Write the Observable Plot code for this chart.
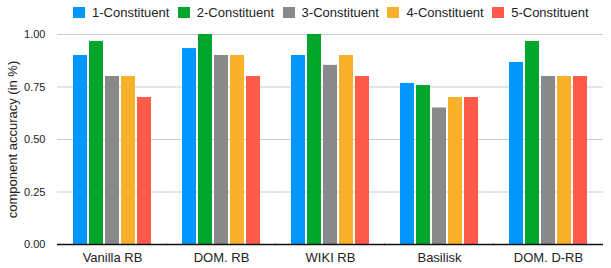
<!DOCTYPE html>
<html>
<head>
<meta charset="utf-8">
<script src="https://cdn.jsdelivr.net/npm/d3@7"></script>
<script src="https://cdn.jsdelivr.net/npm/@observablehq/plot@0.6"></script>
<style>
  html, body { margin: 0; padding: 0; background: #fff; }
  body { width: 611px; height: 268px; overflow: hidden; font-family: "Liberation Sans", Arial, sans-serif; }
  #legend { position: relative; height: 25px; }
  .item { position: absolute; top: 0; height: 25px; display: flex; align-items: center; font-size: 13px; color: #222; }
  .sw { width: 12px; height: 11px; margin-right: 7px; }
</style>
</head>
<body>
<div id="legend"></div>
<div id="chart"></div>
<script>
const groups = ["Vanilla RB", "DOM. RB", "WIKI RB", "Basilisk", "DOM. D-RB"];
const series = ["1-Constituent", "2-Constituent", "3-Constituent", "4-Constituent", "5-Constituent"];
const colors = ["#0096ff", "#00a52b", "#898989", "#f9b02b", "#ff5a4a"];
const c1 = [0.90, 0.933, 0.90, 0.767, 0.867];
const c2 = [0.967, 1.00, 1.00, 0.757, 0.967];
const c3 = [0.80, 0.90, 0.853, 0.65, 0.80];
const c4 = [0.80, 0.90, 0.90, 0.70, 0.80];
const c5 = [0.70, 0.80, 0.80, 0.70, 0.80];
const yTicks = [0, 0.25, 0.5, 0.75, 1];

const values = [c1, c2, c3, c4, c5];
const data = [];
groups.forEach((g, gi) => series.forEach((s, si) => data.push({group: g, series: s, value: values[si][gi]})));

// legend
const legend = document.getElementById("legend");
series.forEach((s, i) => {
  const d = document.createElement("div");
  d.className = "item";
  d.style.left = (73 + i * 104.8) + "px";
  d.innerHTML = `<div class="sw" style="background:${colors[i]}"></div><span>${s}</span>`;
  legend.appendChild(d);
});

const chart = Plot.plot({
  width: 611,
  height: 243,
  marginLeft: 56,
  marginRight: 8,
  marginTop: 9,
  marginBottom: 24,
  style: {fontFamily: "Liberation Sans, Arial, sans-serif", fontSize: "11px", color: "#222", background: "#fff"},
  fx: {domain: groups, paddingInner: 0.285, paddingOuter: 0.146, label: null, axis: null},
  x: {domain: series, paddingInner: 0.125, paddingOuter: 0, axis: null},
  y: {domain: [0, 1], axis: null},
  color: {domain: series, range: colors},
  marks: [
    Plot.ruleY(yTicks.slice(1), {stroke: "#cccccc", strokeWidth: 1, insetLeft: -16, insetRight: -16}),
    Plot.axisY({ticks: yTicks, tickFormat: ".2f", tickSize: 0, tickPadding: 28, fontSize: 11, label: null}),
    Plot.axisY({ticks: [], tickSize: 0, fontSize: 13,
      label: "component accuracy (in %)", labelAnchor: "center", labelOffset: 66, labelArrow: false}),
    Plot.barY(data, {fx: "group", x: "series", y: "value", fill: "series"}),
    Plot.axisFx({anchor: "bottom", tickSize: 0, tickPadding: 8, fontSize: 13, label: null}),
    Plot.ruleY([0], {stroke: "#111", strokeWidth: 1.5, insetLeft: -16, insetRight: -16})
  ]
});
document.getElementById("chart").appendChild(chart);
</script>
</body>
</html>
